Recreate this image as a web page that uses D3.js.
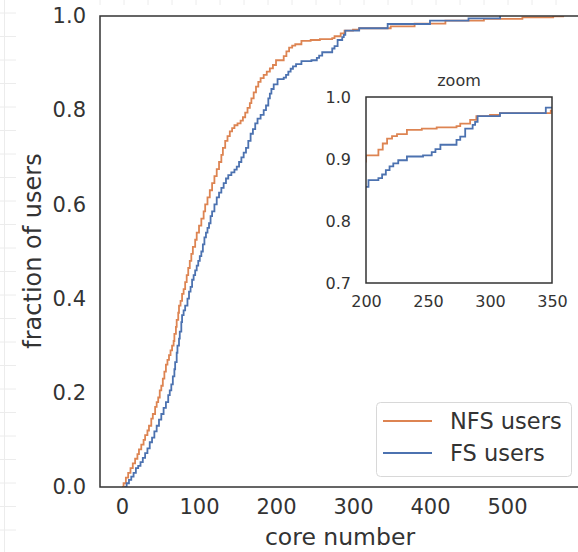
<!DOCTYPE html>
<html>
<head>
  <meta charset="utf-8">
  <title>Core number CDF</title>
  <script src="https://d3js.org/d3.v7.min.js"></script>
  <style>
    body { margin: 0; background: #fff; }
    text { font-family: "DejaVu Sans", sans-serif; fill: #333; }
  </style>
</head>
<body>
  <div id="chart"></div>

  <script>
    // Step CDF points (core number -> fraction of users)
    const nfsCores = [0, 2, 5, 8, 11, 14, 17, 20, 22, 25, 28, 30, 33, 35, 38, 40, 43, 45, 47, 49, 51, 53, 55, 57, 59, 61, 63, 65, 67, 68, 70, 71, 73, 74, 76, 78, 80, 82, 84, 86, 88, 90, 92, 95, 97, 100, 103, 106, 108, 111, 114, 117, 120, 123, 126, 129, 131, 134, 137, 140, 143, 146, 150, 154, 157, 160, 163, 166, 168, 171, 174, 177, 180, 184, 188, 192, 196,
                      200, 210, 213.5, 217, 221, 225, 233, 245, 257, 273, 276, 284, 289, 300, 308, 349, 380, 420, 470, 520, 560, 573];
    const nfsFrac  = [0, 0.008, 0.02, 0.03, 0.04, 0.05, 0.06, 0.07, 0.08, 0.09, 0.1, 0.11, 0.12, 0.13, 0.145, 0.155, 0.17, 0.18, 0.19, 0.205, 0.215, 0.23, 0.245, 0.26, 0.27, 0.28, 0.29, 0.3, 0.31, 0.325, 0.34, 0.355, 0.37, 0.385, 0.395, 0.41, 0.42, 0.435, 0.45, 0.465, 0.48, 0.495, 0.51, 0.525, 0.54, 0.555, 0.57, 0.585, 0.6, 0.615, 0.63, 0.645, 0.66, 0.675, 0.69, 0.705, 0.72, 0.735, 0.745, 0.755, 0.762, 0.768, 0.772, 0.778, 0.785, 0.795, 0.805, 0.815, 0.825, 0.838, 0.85, 0.86, 0.868, 0.875, 0.882, 0.889, 0.896,
                      0.906, 0.915, 0.925, 0.933, 0.937, 0.94, 0.947, 0.949, 0.951, 0.953, 0.957, 0.963, 0.969, 0.971, 0.974, 0.978, 0.984, 0.99, 0.994, 0.997, 0.999, 1.0];

    const fsCores = [3, 6, 9, 12, 15, 18, 21, 24, 27, 30, 33, 36, 39, 42, 45, 48, 51, 54, 57, 60, 62, 64, 66, 68, 69, 71, 72, 74, 75, 77, 78, 80, 82, 85, 87, 89, 91, 93, 95, 97, 99, 101, 103, 105, 107, 109, 111, 113, 115, 117, 120, 123, 126, 129, 132, 135, 138, 142, 146, 149, 152, 155, 158, 161, 164, 167, 170, 173, 176, 180, 184, 187, 190, 192, 194, 197,
                     202, 210, 213, 216, 219, 222, 226, 233, 246, 253, 256, 260, 273, 276, 280, 286, 288, 290, 308, 345, 400, 450, 491];
    const fsFrac  = [0, 0.008, 0.015, 0.022, 0.03, 0.04, 0.045, 0.053, 0.062, 0.072, 0.082, 0.095, 0.105, 0.118, 0.13, 0.143, 0.155, 0.168, 0.18, 0.195, 0.205, 0.218, 0.235, 0.25, 0.265, 0.285, 0.3, 0.315, 0.33, 0.35, 0.365, 0.375, 0.385, 0.4, 0.415, 0.425, 0.44, 0.45, 0.46, 0.47, 0.48, 0.49, 0.5, 0.515, 0.53, 0.54, 0.55, 0.56, 0.575, 0.585, 0.6, 0.615, 0.625, 0.635, 0.645, 0.655, 0.662, 0.668, 0.674, 0.68, 0.69, 0.7, 0.71, 0.72, 0.735, 0.75, 0.76, 0.772, 0.782, 0.79, 0.8, 0.81, 0.825, 0.835, 0.845, 0.855,
                     0.866, 0.869, 0.875, 0.882, 0.888, 0.893, 0.898, 0.904, 0.906, 0.911, 0.916, 0.923, 0.931, 0.936, 0.949, 0.955, 0.96, 0.969, 0.974, 0.983, 0.99, 0.995, 1.0];

    const seriesNames = ["NFS users", "FS users"];
    const seriesColors = ["#dd8452", "#4c72b0"];

    const yTicks = [0, 0.2, 0.4, 0.6, 0.8, 1.0];
    const xTicks = [0, 100, 200, 300, 400, 500];
    const zoomXTicks = [200, 250, 300, 350];
    const zoomYTicks = [0.7, 0.8, 0.9, 1.0];

    const nfs = nfsCores.map((c, i) => [c, nfsFrac[i]]);
    const fs = fsCores.map((c, i) => [c, fsFrac[i]]);

    const W = 578, H = 552;

    const svg = d3.select("#chart")
                  .append("svg")
                  .attr("width", W)
                  .attr("height", H);

    // faint page grid behind the figure
    const bg = svg.append("g").attr("stroke", "#ececec").attr("stroke-width", 1);
    d3.range(13, H, 23.5).forEach(y => {
      bg.append("line").attr("x1", 0).attr("x2", 16).attr("y1", y).attr("y2", y);
    });
    bg.append("line").attr("x1", 4.5).attr("x2", 4.5).attr("y1", 0).attr("y2", H);
    d3.range(100, W, 24).forEach(x => {
      bg.append("line").attr("x1", x).attr("x2", x).attr("y1", 0).attr("y2", 5);
    });

    // main axes
    const x = d3.scaleLinear().domain([-28.6, 600]).range([100, 584]);
    const y = d3.scaleLinear().domain([0, 1]).range([487, 16]);

    svg.append("clipPath").attr("id", "mainClip")
       .append("rect").attr("x", 100).attr("y", 16).attr("width", 484).attr("height", 471);

    const line = d3.line()
                   .x(d => x(d[0]))
                   .y(d => y(d[1]))
                   .curve(d3.curveStepAfter);

    [nfs, fs].forEach((s, i) => {
      svg.append("path")
         .datum(s)
         .attr("clip-path", "url(#mainClip)")
         .attr("fill", "none")
         .attr("stroke", seriesColors[i])
         .attr("stroke-width", 1.8)
         .attr("d", line);
    });

    svg.append("rect")
       .attr("x", 100).attr("y", 16).attr("width", 484).attr("height", 471)
       .attr("fill", "none").attr("stroke", "#333").attr("stroke-width", 1.5);

    svg.append("g")
       .attr("transform", "translate(0,487)")
       .call(d3.axisBottom(x).tickValues(xTicks).tickSize(0).tickPadding(12))
       .call(g => g.select(".domain").remove())
       .selectAll("text").style("font-size", "21px").attr("fill", "#333");

    svg.append("g")
       .attr("transform", "translate(100,0)")
       .call(d3.axisLeft(y).tickValues(yTicks).tickFormat(d3.format(".1f")).tickSize(0).tickPadding(14))
       .call(g => g.select(".domain").remove())
       .selectAll("text").style("font-size", "21px").attr("fill", "#333");

    svg.append("text")
       .attr("x", 340).attr("y", 545)
       .attr("text-anchor", "middle")
       .style("font-size", "23.5px")
       .text("core number");

    svg.append("text")
       .attr("transform", "translate(41,251) rotate(-90)")
       .attr("text-anchor", "middle")
       .style("font-size", "24px")
       .text("fraction of users");

    // zoom inset
    const zx = d3.scaleLinear().domain([200, 350]).range([366, 552]);
    const zy = d3.scaleLinear().domain([0.7, 1.0]).range([283, 97]);

    svg.append("rect")
       .attr("x", 366).attr("y", 97).attr("width", 186).attr("height", 186)
       .attr("fill", "#fff");

    svg.append("clipPath").attr("id", "zoomClip")
       .append("rect").attr("x", 366).attr("y", 97).attr("width", 186).attr("height", 186);

    const zline = d3.line()
                    .x(d => zx(d[0]))
                    .y(d => zy(d[1]))
                    .curve(d3.curveStepAfter);

    [nfs, fs].forEach((s, i) => {
      svg.append("path")
         .datum(s)
         .attr("clip-path", "url(#zoomClip)")
         .attr("fill", "none")
         .attr("stroke", seriesColors[i])
         .attr("stroke-width", 1.8)
         .attr("d", zline);
    });

    svg.append("rect")
       .attr("x", 366).attr("y", 97).attr("width", 186).attr("height", 186)
       .attr("fill", "none").attr("stroke", "#333").attr("stroke-width", 1.5);

    svg.append("g")
       .attr("transform", "translate(0,283)")
       .call(d3.axisBottom(zx).tickValues(zoomXTicks).tickSize(0).tickPadding(13))
       .call(g => g.select(".domain").remove())
       .selectAll("text").style("font-size", "16px").attr("fill", "#333");

    svg.append("g")
       .attr("transform", "translate(366,0)")
       .call(d3.axisLeft(zy).tickValues(zoomYTicks).tickFormat(d3.format(".1f")).tickSize(0).tickPadding(15))
       .call(g => g.select(".domain").remove())
       .selectAll("text").style("font-size", "16px").attr("fill", "#333");

    svg.append("text")
       .attr("x", 459).attr("y", 86)
       .attr("text-anchor", "middle")
       .style("font-size", "16px")
       .text("zoom");

    // legend
    const legend = svg.append("g");
    legend.append("rect")
          .attr("x", 376.5).attr("y", 402.5).attr("width", 195).attr("height", 74)
          .attr("rx", 4)
          .attr("fill", "#fff").attr("fill-opacity", 0.8)
          .attr("stroke", "#d8d8d8");

    seriesNames.forEach((name, i) => {
      const ly = 421 + i * 32;
      legend.append("line")
            .attr("x1", 383).attr("x2", 432).attr("y1", ly).attr("y2", ly)
            .attr("stroke", seriesColors[i]).attr("stroke-width", 1.8);
      legend.append("text")
            .attr("x", 450).attr("y", ly + 8)
            .style("font-size", "22.5px")
            .text(name);
    });
  </script>
</body>
</html>
